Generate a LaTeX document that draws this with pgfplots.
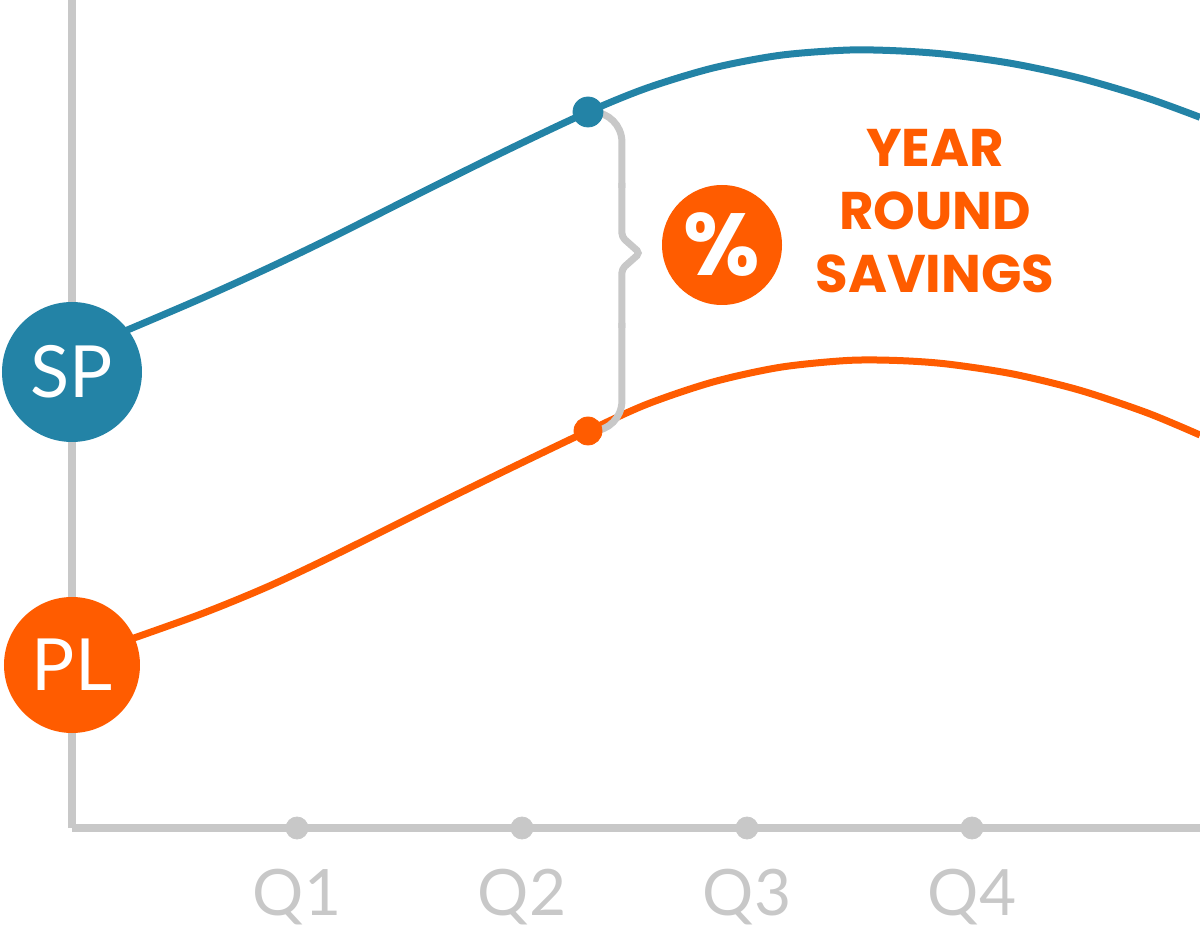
\documentclass[border=0pt]{standalone}
\usepackage{pgfplots}
\pgfplotsset{compat=1.18}
\usepackage{fontspec}
\setmainfont{Lato}
\newfontfamily\headfont{Poppins}

\definecolor{spblue}{RGB}{35,131,166}
\definecolor{plorange}{RGB}{255,92,0}
\definecolor{axisgray}{RGB}{200,200,200}

% SP curve
\pgfplotstableread{
x y
0.2044 494.0
0.5689 529.0
0.8667 559.4
1.1600 591.1
1.6044 641.3
1.9467 679.3
2.2933 716.0
2.5556 740.0
2.8489 760.0
3.1467 772.7
3.4444 777.9
3.6667 777.2
3.8889 773.6
4.1822 764.3
4.4800 749.8
4.7778 730.0
5.0133 710.7
}\spdata

% PL curve
\pgfplotstableread{
x y
0.2044 184.4
0.5689 213.6
0.8667 241.0
1.1600 272.1
1.6044 321.9
1.9467 359.6
2.2933 397.0
2.5556 423.8
2.8489 446.0
3.1467 460.7
3.4444 467.5
3.6667 467.5
3.8889 464.0
4.1822 454.0
4.4800 437.7
4.7778 415.2
5.0133 393.0
}\pldata

\begin{document}
\begin{tikzpicture}
\path[use as bounding box] (0,0) rectangle (600pt,463.5pt);
\begin{axis}[
  at={(36pt,49.5pt)}, anchor=south west,
  scale only axis, width=564pt, height=414pt,
  xmin=0, xmax=5.0133, ymin=0, ymax=828,
  axis lines=left,
  axis line style={draw=axisgray, line width=4pt, -},
  ytick=\empty,
  xtick={1,2,3,4}, xticklabels={Q1,Q2,Q3,Q4},
  major tick length=0pt, xtick style={draw=none},
  xticklabel style={anchor=base, yshift=-43.5pt,
    font=\fontsize{32}{32}\selectfont, text=axisgray},
  clip=false,
]
\addplot[only marks, mark=*, mark size=5.5pt, color=axisgray] coordinates {(1,0) (2,0) (3,0) (4,0)};

\addplot[spblue, line width=3.5pt, smooth, no marks] table {\spdata};
\addplot[plorange, line width=3.5pt, smooth, no marks] table {\pldata};

% brace between the two points
\draw[axisgray, line width=3.5pt, rounded corners=15pt]
  (2.2933,716) -- (2.444,716) -- (2.444,640);
\draw[axisgray, line width=3.5pt, rounded corners=2pt]
  (2.444,645) -- (2.444,591) -- (2.524,575) -- (2.444,559) -- (2.444,500);
\draw[axisgray, line width=3.5pt, rounded corners=15pt]
  (2.444,505) -- (2.444,397) -- (2.2933,397);

\addplot[only marks, mark=*, mark size=7.5pt, spblue] coordinates {(2.2933,716)};
\addplot[only marks, mark=*, mark size=7pt, plorange] coordinates {(2.2933,397)};

\node[circle, fill=spblue, minimum size=70pt, inner sep=0pt, text=white,
  font=\fontsize{36}{36}\selectfont] at (axis cs:0,456) {SP};
\node[circle, fill=plorange, minimum size=68pt, inner sep=0pt, text=white,
  font=\fontsize{36}{36}\selectfont] at (axis cs:0,163) {PL};

\node[circle, fill=plorange, minimum size=60pt, inner sep=0pt, text=white,
  font=\headfont\bfseries\fontsize{44}{44}\selectfont] at (axis cs:2.8889,583) {\%};
\node[align=center, text=plorange, inner sep=0pt,
  font=\headfont\bfseries\fontsize{26.5}{31.5}\selectfont] at (axis cs:3.8356,617) {YEAR\\ROUND\\SAVINGS};
\end{axis}
\end{tikzpicture}
\end{document}
